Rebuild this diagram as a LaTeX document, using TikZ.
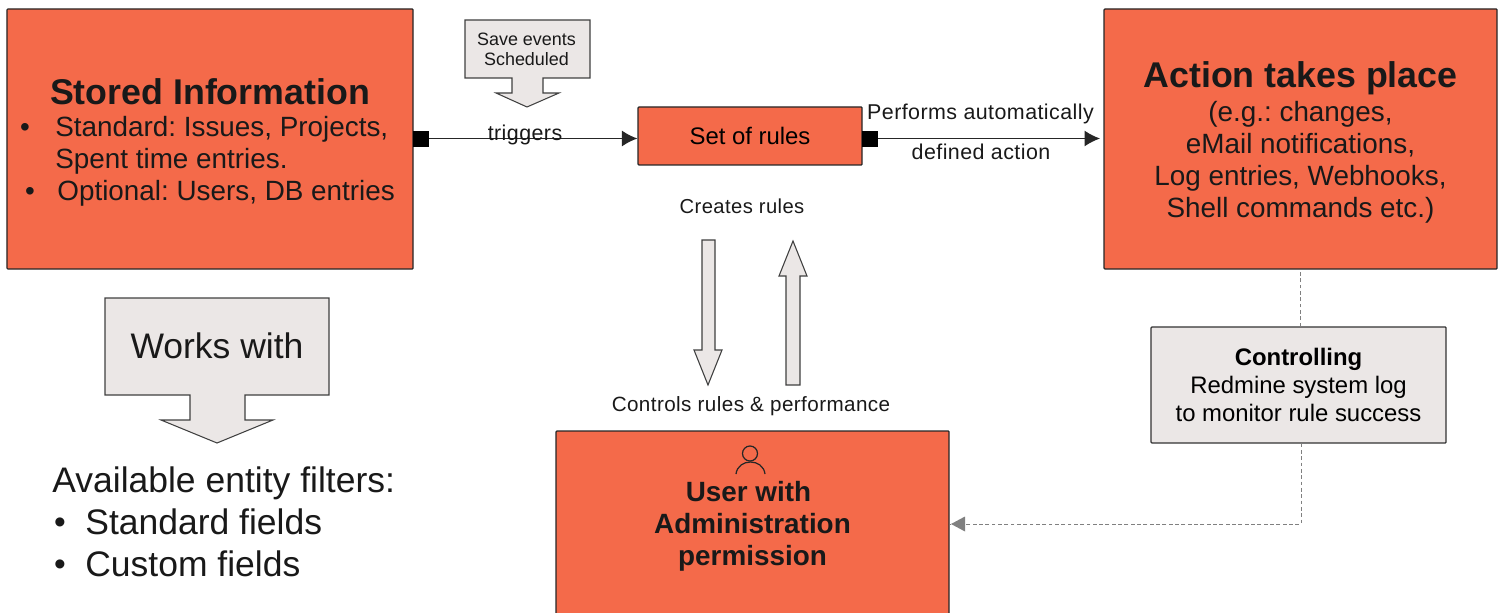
\documentclass[tikz,border=0pt]{standalone}
\usepackage{fontspec}
\setmainfont{Liberation Sans}
\usetikzlibrary{arrows.meta}
\frenchspacing

\definecolor{boxred}{HTML}{F46A4A}
\definecolor{boxgrey}{HTML}{EBE7E6}
\definecolor{linegrey}{HTML}{808080}

\tikzset{
  redbox/.style={draw=black!85, fill=boxred, line width=0.7pt, rounded corners=0.5pt, inner sep=0pt, align=center},
  greybox/.style={draw=black!80, fill=boxgrey, line width=0.7pt, rounded corners=0.5pt, inner sep=0pt, align=center},
  blockarrow/.style={draw=black!75, fill=boxgrey, line width=0.6pt},
  plain/.style={inner sep=0pt, align=center, text=black!90},
  bigtext/.style={plain, font=\fontsize{15.85}{18.1}\selectfont},
  hugetext/.style={plain, font=\fontsize{20.2}{23.8}\selectfont},
  smalltext/.style={plain, font=\fontsize{10.2}{11.3}\selectfont},
  edgetext/.style={plain, font=\fontsize{11.5}{12}\selectfont\addfontfeatures{LetterSpace=2}},
  topedgetext/.style={plain, font=\fontsize{12.2}{12}\selectfont\addfontfeatures{LetterSpace=2}},
  port/.style={draw=black, fill=black, inner sep=0pt, minimum size=8.6pt},
  flow/.style={draw=black!85, line width=0.7pt, -{Latex[length=3.1mm, width=3.2mm]}},
  dashflow/.style={draw=linegrey, line width=0.55pt, dash pattern=on 2.2pt off 1.4pt}
}
\newcommand{\titlefont}{\fontsize{20.35}{20.4}\selectfont\bfseries}

\begin{document}
\begin{tikzpicture}[x=0.2mm, y=-0.2mm]
  \clip (0, 0) rectangle (1500, 613);

  % boxes
  \node[redbox, minimum width=81.2mm, minimum height=52mm] (stored) at (210, 139) {};
  \node[redbox, minimum width=78.6mm, minimum height=52mm] (action) at (1300.5, 139) {};
  \node[redbox, font=\fontsize{13.6}{15}\selectfont, minimum width=44.8mm, minimum height=11.6mm] (rules) at (750, 136) {Set of rules};
  \node[redbox, minimum width=78.6mm, minimum height=50mm] (user) at (752.5, 556) {};
  \node[greybox, font=\fontsize{13.6}{15.7}\selectfont, minimum width=59mm, minimum height=23.2mm] (control) at (1298.5, 385)
    {\textbf{Controlling}\\Redmine system log\\to monitor rule success};

  % texts of the action box
  \node[plain, font=\titlefont] (actiontitle) at (1300.5, 78) {Action takes place};
  \node[bigtext] (actiontext) at (1300.5, 162.3) {(e.g.: changes,\\eMail notifications,\\Log entries, Webhooks,\\Shell commands etc.)};

  % texts of the stored box
  \node[plain, font=\titlefont] (storedtitle) at (210, 92) {Stored Information};
  \node[bigtext] (bulleta) at (25, 130) {•};
  \node[bigtext, anchor=west] (stda) at (55, 129.5) {Standard: Issues, Projects,};
  \node[bigtext, anchor=west] (stdb) at (55, 161.5) {Spent time entries.};
  \node[bigtext] (bulletb) at (30, 194) {•};
  \node[bigtext, anchor=west] (opt) at (57, 193.5) {Optional: Users, DB entries};

  % user box
  \node[bigtext, font=\fontsize{15.85}{18.1}\selectfont\bfseries] (usertext) at (752.5, 526) {User with\hspace*{1.6mm}\\Administration\\permission};
  \draw[black!85, line width=0.7pt] (750, 453.5) circle (7.5);
  \draw[black!85, line width=0.7pt] (736, 474) .. controls (738, 458) and (763, 458) .. (765, 474);

  % block arrows
  \draw[blockarrow] (105, 298) -- (329, 298) -- (329, 395) -- (245, 395) -- (245, 420) -- (273, 420)
    -- (217, 443) -- (161, 420) -- (190, 420) -- (190, 395) -- (105, 395) -- cycle;
  \node[hugetext] (works) at (217, 346) {Works with};

  \draw[blockarrow] (465, 20) -- (590, 20) -- (590, 78) -- (543, 78) -- (543, 93) -- (559, 93)
    -- (527, 107) -- (496, 93) -- (512, 93) -- (512, 78) -- (465, 78) -- cycle;
  \node[smalltext] (save) at (526.5, 49) {Save events\\Scheduled};

  \draw[blockarrow] (702, 240) -- (715, 240) -- (715, 350) -- (722, 350) -- (708, 385)
    -- (694, 350) -- (702, 350) -- cycle;
  \draw[blockarrow] (786, 385) -- (800, 385) -- (800, 276) -- (807, 276) -- (793, 241)
    -- (779, 276) -- (786, 276) -- cycle;

  % filters
  \node[hugetext, anchor=west] (filters) at (52, 483) {Available entity filters:};
  \node[plain, font=\fontsize{19}{20}\selectfont] (bulletc) at (60, 526) {•};
  \node[hugetext, anchor=west] (fielda) at (85, 522) {Standard fields};
  \node[plain, font=\fontsize{19}{20}\selectfont] (bulletd) at (60, 568) {•};
  \node[hugetext, anchor=west] (fieldb) at (85, 564) {Custom fields};

  % connectors
  \node[port] (porta) at (421, 138.5) {};
  \node[port] (portb) at (870, 138.5) {};
  \draw[flow] (porta) -- (rules.west |- porta);
  \coordinate (actionin) at (1100, 138.5);
  \draw[flow] (portb) -- (actionin);
  \draw[dashflow] (control.north -| action.south) -- (action.south);
  \coordinate (bend) at (1301, 524);
  \draw[dashflow] (control.south -| bend) -- (bend) -- (user.east |- bend);
  \coordinate (usertip) at (951, 524);
  \draw[draw=none, fill=linegrey] (usertip) -- (965, 516.5) -- (965, 531.5) -- cycle;

  % edge texts
  \node[topedgetext] (trig) at (525, 134.5) {triggers};
  \node[topedgetext] (perf) at (980.5, 113.5) {Performs automatically};
  \node[topedgetext] (defd) at (981, 152) {defined action};
  \node[edgetext] (creates) at (742, 206) {Creates rules};
  \node[edgetext, font=\fontsize{11.75}{12}\selectfont\addfontfeatures{LetterSpace=2}] (ctrl) at (751, 406.5) {Controls rules \& performance};
\end{tikzpicture}
\end{document}
